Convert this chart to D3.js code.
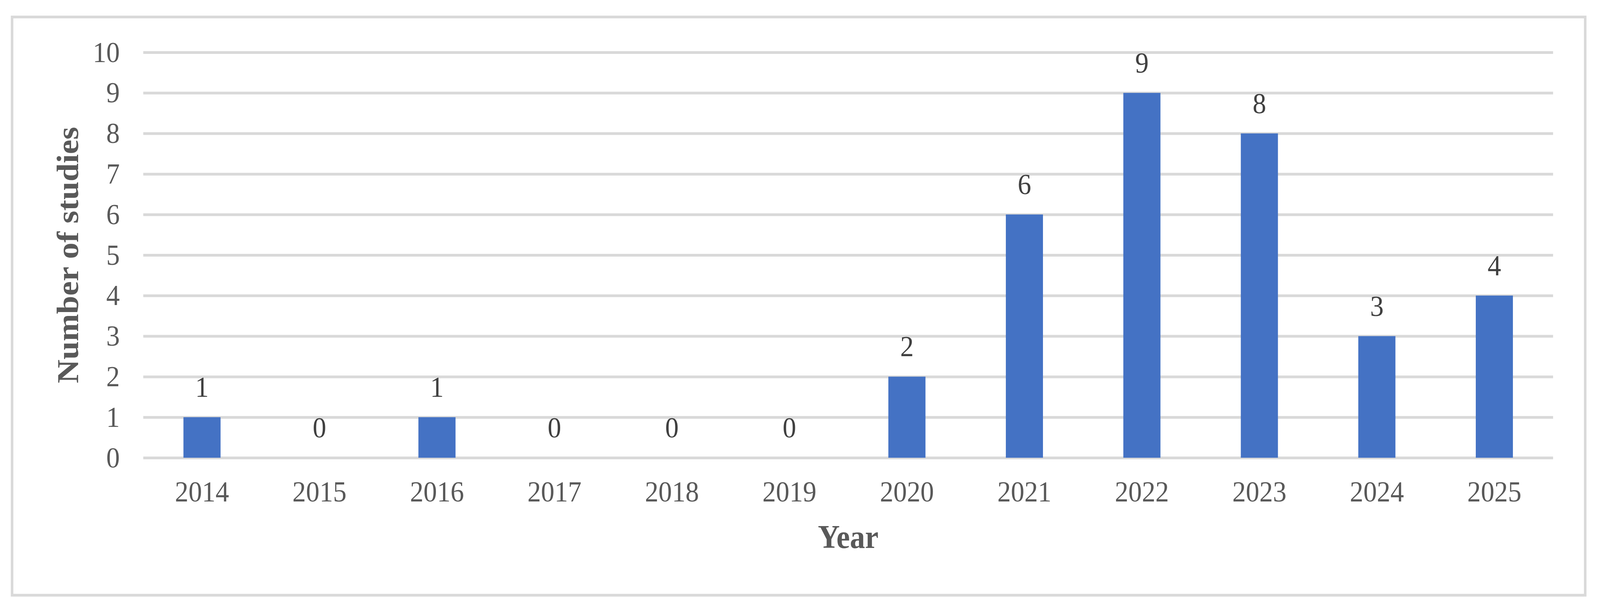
<!DOCTYPE html>
<html>
<head>
<meta charset="utf-8">
<script src="https://cdn.jsdelivr.net/npm/d3@7"></script>
<style>
  html, body { margin: 0; padding: 0; background: #fff; overflow: hidden; width: 100%; height: 100%; }
  #chart { width: 100vw; height: 100vh; }
  svg { display: block; width: 100%; height: 100%; }
  text { font-family: "Liberation Serif", "Times New Roman", serif; }
</style>
</head>
<body>
<div id="chart"></div>
<script>
// data
var years = ["2014", "2015", "2016", "2017", "2018", "2019", "2020", "2021", "2022", "2023", "2024", "2025"];
var studies = [1, 0, 1, 0, 0, 0, 2, 6, 9, 8, 3, 4];
var yTicks = [0, 1, 2, 3, 4, 5, 6, 7, 8, 9, 10];

var W = 4434, H = 1567;
// plot area (note: "top" is taken by window.top, so use other names)
var plotL = 397, plotR = 4304, plotT = 134, plotB = 1172;

// drawn in a 4434x1567 coordinate system, scaled to whatever the window is
var svg = d3.select("#chart").append("svg")
    .attr("viewBox", "0 0 " + W + " " + H)
    .attr("preserveAspectRatio", "none");

svg.append("rect").attr("width", W).attr("height", H).attr("fill", "#fff");

// outer chart frame
svg.append("rect")
    .attr("x", 33.5).attr("y", 43.5)
    .attr("width", 4393 - 33.5).attr("height", 1524 - 43.5)
    .attr("fill", "none")
    .attr("stroke", "#d9d9d9")
    .attr("stroke-width", 7);

var x = d3.scaleBand()
    .domain(years)
    .range([plotL, plotR])
    .paddingInner(0.684)
    .paddingOuter(0.342);

var y = d3.scaleLinear()
    .domain([0, 10])
    .range([plotB, plotT]);

// y axis + gridlines
var yAxis = svg.append("g")
    .attr("transform", "translate(" + plotL + ",0)")
    .call(d3.axisLeft(y).tickValues(yTicks).tickSize(-(plotR - plotL)).tickPadding(65));
yAxis.select(".domain").remove();
yAxis.selectAll(".tick line")
    .attr("stroke", "#d9d9d9")
    .attr("stroke-width", 7);
yAxis.selectAll(".tick text")
    .attr("fill", "#595959")
    .style("font-size", "75px");

// x axis labels
var xAxis = svg.append("g")
    .attr("transform", "translate(0," + plotB + ")")
    .call(d3.axisBottom(x).tickSize(0).tickPadding(59));
xAxis.select(".domain").remove();
xAxis.selectAll(".tick text")
    .attr("fill", "#595959")
    .style("font-size", "75px");

// bars
svg.selectAll("rect.bar")
    .data(studies)
    .enter()
    .append("rect")
    .attr("class", "bar")
    .attr("x", function(d, i) { return x(years[i]); })
    .attr("y", function(d) { return y(d); })
    .attr("width", x.bandwidth())
    .attr("height", function(d) { return y(0) - y(d); })
    .attr("fill", "#4472c4");

// value labels above bars
svg.selectAll("text.val")
    .data(studies)
    .enter()
    .append("text")
    .attr("class", "val")
    .attr("x", function(d, i) { return x(years[i]) + x.bandwidth() / 2; })
    .attr("y", function(d) { return y(d) - 52; })
    .attr("text-anchor", "middle")
    .attr("fill", "#404040")
    .style("font-size", "75px")
    .text(function(d) { return d; });

// axis titles
svg.append("text")
    .attr("transform", "translate(217," + ((plotT + plotB) / 2) + ") rotate(-90)")
    .attr("text-anchor", "middle")
    .attr("fill", "#595959")
    .style("font-size", "84px")
    .style("font-weight", "bold")
    .text("Number of studies");

svg.append("text")
    .attr("x", (plotL + plotR) / 2)
    .attr("y", 1403)
    .attr("text-anchor", "middle")
    .attr("fill", "#595959")
    .style("font-size", "84px")
    .style("font-weight", "bold")
    .text("Year");
</script>
</body>
</html>
